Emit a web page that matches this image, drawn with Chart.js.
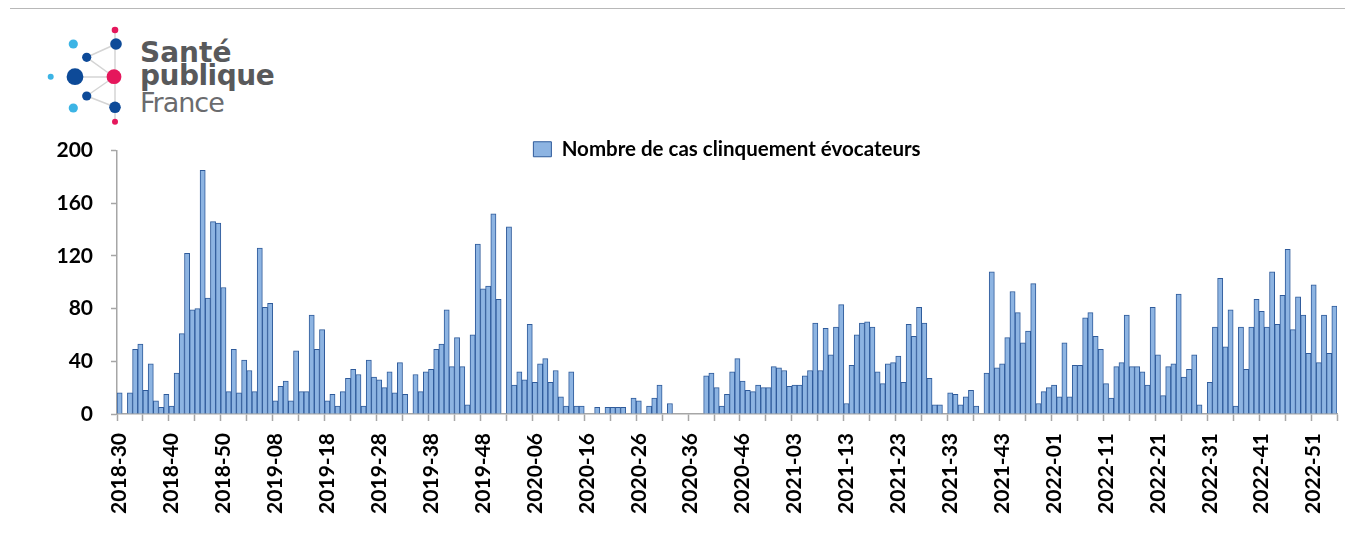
<!DOCTYPE html>
<html><head><meta charset="utf-8">
<script src="https://cdn.jsdelivr.net/npm/chart.js@4/dist/chart.umd.min.js"></script>
<style>
html,body{margin:0;padding:0;background:#fff;}
#wrap{position:relative;width:1345px;height:546px;overflow:hidden;background:#fff;}
#c{position:absolute;left:0;top:0;}
#frameTop{position:absolute;left:10px;top:8px;width:1335px;height:1px;background:#b8b8b8;}
.lt{position:absolute;left:140px;font-family:"DejaVu Sans";line-height:1;white-space:nowrap;}
#logo{position:absolute;left:0;top:0;}
</style></head>
<body><div id="wrap">
<div id="frameTop"></div>
<svg id="logo" width="140" height="135" viewBox="0 0 140 135">
  <g stroke="#d4d4d4" stroke-width="1.5" fill="none">
    <line x1="115" y1="30" x2="115" y2="122"/>
    <line x1="114" y1="77" x2="75" y2="77"/>
    <line x1="114" y1="77" x2="86.7" y2="57.3"/>
    <line x1="114" y1="77" x2="86.7" y2="96"/>
    <line x1="116" y1="44" x2="86.7" y2="57.3"/>
    <line x1="115" y1="107" x2="86.7" y2="96"/>
  </g>
  <circle cx="115" cy="30" r="3.3" fill="#e5175c"/>
  <circle cx="116" cy="44" r="5.8" fill="#0d4a98"/>
  <circle cx="73.3" cy="44" r="4.6" fill="#3cb4e5"/>
  <circle cx="86.7" cy="57.3" r="4.6" fill="#0d4a98"/>
  <circle cx="50.7" cy="76.7" r="3" fill="#3cb4e5"/>
  <circle cx="75" cy="76.7" r="8.4" fill="#0d4a98"/>
  <circle cx="114" cy="76.7" r="7.4" fill="#e5175c"/>
  <circle cx="86.7" cy="96" r="4.6" fill="#0d4a98"/>
  <circle cx="73.3" cy="108" r="4.6" fill="#3cb4e5"/>
  <circle cx="115" cy="107.3" r="5.8" fill="#0d4a98"/>
  <circle cx="115" cy="121.7" r="3" fill="#e5175c"/>
</svg>
<div class="lt" style="top:39px;font-size:28px;font-weight:bold;color:#58595b;">Santé</div>
<div class="lt" style="top:62px;font-size:28px;font-weight:bold;color:#58595b;letter-spacing:-0.5px;">publique</div>
<div class="lt" style="top:89px;font-size:27px;font-weight:normal;color:#6a6b6e;letter-spacing:-1px;">France</div>
<canvas id="c" width="1345" height="546"></canvas>
</div>
<script>
// ---- data ----
const startYear = 2018;
const startWeek = 30;
const weeksPerYear = {2018: 52, 2019: 52, 2020: 53, 2021: 52, 2022: 52, 2023: 52};
const seriesLabel = 'Nombre de cas clinquement évocateurs';
const yTickValues = [0, 40, 80, 120, 160, 200];
const cases = [
  16, 0, 16, 49, 53, 18, 38, 10, 5, 15,
  6, 31, 61, 122, 79, 80, 185, 88, 146, 145,
  96, 17, 49, 16, 41, 33, 17, 126, 81, 84,
  10, 21, 25, 10, 48, 17, 17, 75, 49, 64,
  10, 15, 6, 17, 27, 34, 30, 6, 41, 28,
  26, 20, 32, 16, 39, 15, 0, 30, 17, 32,
  34, 49, 53, 79, 36, 58, 36, 7, 60, 129,
  95, 97, 152, 87, 0, 142, 22, 32, 26, 68,
  24, 38, 42, 24, 33, 13, 6, 32, 6, 6,
  0, 0, 5, 0, 5, 5, 5, 5, 0, 12,
  10, 0, 6, 12, 22, 0, 8, 0, 0, 0,
  0, 0, 0, 29, 31, 20, 6, 15, 32, 42,
  25, 18, 17, 22, 20, 20, 36, 35, 33, 21,
  22, 22, 29, 33, 69, 33, 65, 45, 66, 83,
  8, 37, 60, 69, 70, 66, 32, 23, 38, 39,
  44, 24, 68, 59, 81, 69, 27, 7, 7, 0,
  16, 15, 7, 13, 18, 6, 0, 31, 108, 35,
  38, 58, 93, 77, 54, 63, 99, 8, 17, 20,
  22, 13, 54, 13, 37, 37, 73, 77, 59, 49,
  23, 12, 36, 39, 75, 36, 36, 32, 22, 81,
  45, 14, 36, 38, 91, 28, 34, 45, 7, 0,
  24, 66, 103, 51, 79, 6, 66, 34, 66, 87,
  78, 66, 108, 68, 90, 125, 64, 89, 75, 46,
  98, 39, 75, 46, 82
];

// week codes (categories)
const weeks = [];
(function () {
  let y = startYear, w = startWeek;
  for (let i = 0; i < cases.length; i++) {
    weeks.push(y + '-' + String(w).padStart(2, '0'));
    w++;
    if (w > weeksPerYear[y]) { w = 1; y++; }
  }
})();

const axisGray = '#a6a6a6';

const legendShift = {
  id: 'legendShift',
  afterLayout(chart) {
    const lg = chart.legend;
    if (lg) { lg.top += 19; lg.bottom += 19; }
  }
};

new Chart(document.getElementById('c'), {
  type: 'bar',
  data: {
    labels: weeks,
    datasets: [{
      label: seriesLabel,
      data: cases,
      backgroundColor: '#8db4e2',
      borderColor: '#2f5b9b',
      borderWidth: 1,
      borderSkipped: 'start',
      barPercentage: 1,
      categoryPercentage: 1
    }]
  },
  options: {
    responsive: false,
    animation: false,
    devicePixelRatio: 1,
    layout: { padding: { top: 116, right: 8, bottom: 0, left: 0 } },
    plugins: {
      legend: {
        position: 'top',
        fullSize: false,
        align: 'center',
        labels: {
          boxWidth: 18, boxHeight: 15, padding: 4, color: '#000',
          font: { family: 'Lato', size: 20.5, weight: 'bold' }
        }
      },
      tooltip: { enabled: false }
    },
    scales: {
      x: {
        offset: true,
        grid: {
          display: true, drawOnChartArea: false, drawTicks: true, offset: true,
          tickLength: 7, tickWidth: 1.5,
          tickColor: (c) => (c.index === undefined || c.index % 5 === 0) ? axisGray : 'rgba(0,0,0,0)'
        },
        border: { display: true, color: axisGray, width: 1.5 },
        ticks: {
          autoSkip: false, minRotation: 90, maxRotation: 90, padding: 12, color: '#000',
          font: { family: 'Lato', size: 21, weight: 'bold' },
          callback: (v, i) => (i % 10 === 0 ? weeks[i] : '')
        },
        afterFit: (s) => { s.height = 132; s.paddingLeft = 0; s.paddingRight = 0; }
      },
      y: {
        min: 0, max: 200,
        afterBuildTicks: (s) => { s.ticks = yTickValues.map(v => ({ value: v })); },
        ticks: { padding: 18, color: '#000', font: { family: 'Lato', size: 21, weight: 'bold' } },
        grid: { drawOnChartArea: false, drawTicks: true, tickLength: 6, tickWidth: 1.5, tickColor: axisGray },
        border: { display: true, color: axisGray, width: 1.5 },
        afterFit: (s) => { s.width = 117; s.paddingTop = 0; s.paddingBottom = 0; }
      }
    }
  },
  plugins: [legendShift]
});
</script>
</body></html>
